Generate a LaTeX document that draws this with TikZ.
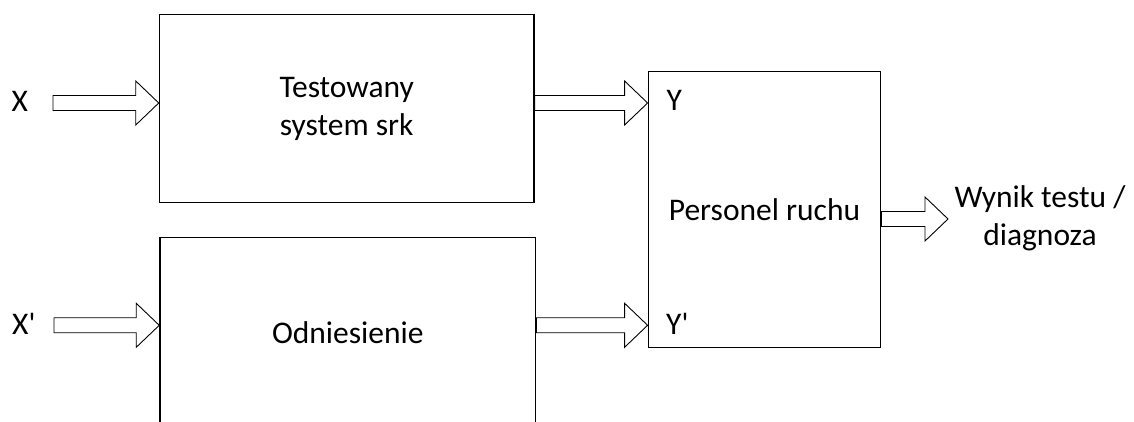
\documentclass[tikz,border=0pt]{standalone}
\usepackage{fontspec}
\setmainfont{Carlito}
\usetikzlibrary{calc}

\tikzset{
  block/.style={draw, line width=1.4pt, inner sep=0pt, align=center},
  lbl/.style={inner sep=0pt, anchor=base west},
  hollow/.style={draw, line width=0.9pt, line join=miter},
}

% Hollow block arrow from tail point #1 to tip point #2 (horizontal)
\newcommand\hollowarrow[2]{%
  \draw[hollow] ($(#1)+(0,7.5)$) -- ($(#2)+(-23,7.5)$) -- ($(#2)+(-23,22)$)
    -- (#2) -- ($(#2)+(-23,-22)$) -- ($(#2)+(-23,-7.5)$)
    -- ($(#1)+(0,-7.5)$) -- cycle;}

\begin{document}
\begin{tikzpicture}[x=1pt, y=1pt, font=\fontsize{31.5}{38}\selectfont]
  \useasboundingbox (0,0) rectangle (1134,422);
  \clip (0,0) rectangle (1134,422);

  % blocks
  \node[block, minimum width=374.5pt, minimum height=187.6pt] (sut) at (346.7,313.5) {Testowany\\system srk};
  \node[block, minimum width=375.7pt, minimum height=190.6pt] (ref) at (347.8,89) {Odniesienie};
  \node[block, minimum width=232.4pt, minimum height=276pt] (staff) at (764.5,212.3) {Personel ruchu};
  \node[align=center, inner sep=0pt] (result) at (1040,204) {Wynik testu /\\diagnoza};

  % signal labels
  \node[lbl] (x)  at (11.5,310.3) {X};
  \node[lbl] (xp) at (12,87.7) {X\textquotesingle};
  \node[lbl] (y)  at (666.5,311) {Y};
  \node[lbl] (yp) at (666,87) {Y\textquotesingle};

  % arrow end points
  \coordinate (xtail)  at (53,319);
  \coordinate (xtip)   at (sut.west |- xtail);
  \coordinate (ytail)  at (sut.east |- xtail);
  \coordinate (ytip)   at (staff.west |- xtail);
  \coordinate (xptail) at (54,96.7);
  \coordinate (xptip)  at (ref.west |- xptail);
  \coordinate (yptail) at (ref.east |- xptail);
  \coordinate (ypt)    at (staff.west |- xptail);
  \coordinate (otail)  at (staff.east |- 0,203);
  \coordinate (otip)   at (948,203);

  % arrows
  \hollowarrow{xtail}{xtip}
  \hollowarrow{ytail}{ytip}
  \hollowarrow{xptail}{xptip}
  \hollowarrow{yptail}{ypt}
  \hollowarrow{otail}{otip}
\end{tikzpicture}
\end{document}
